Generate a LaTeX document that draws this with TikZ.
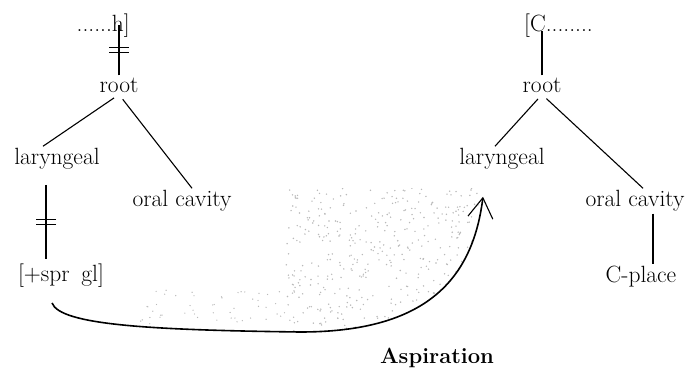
\documentclass[tikz,border=0pt]{standalone}
\usepackage{fontspec}
\usetikzlibrary{arrows.meta,decorations.markings,calc}

\tikzset{
  seg/.style={font=\fontsize{23.5}{28}\selectfont, inner sep=2pt},
  tie/.style={line width=1.1pt},
  branch/.style={line width=1.1pt, shorten <=6pt},
  cut/.style={decoration={markings, mark=at position 0.5 with {
        \draw[line width=1.1pt] (-2.5,-10) -- (-2.5,10) (2.5,-10) -- (2.5,10);}},
    postaction={decorate}},
  spread/.style={line width=1.6pt,
    -{Straight Barb[length=20pt,width=25pt,line width=1.1pt]}},
  speck/.style={gray!55},
}

\begin{document}
\begin{tikzpicture}[x=1pt, y=-1pt]
  \useasboundingbox (0,0) rectangle (691,370);

  % -- Left segment: coda h --
  \node[seg, anchor=base east, inner sep=0pt] (codaL) at (130,31) {......h]};
  \node[seg] (rootL) at (119,85) {root};
  \node[seg] (laryL) at (57,159) {laryngeal};
  \node[seg] (oralL) at (182,201) {oral cavity};
  \node[seg] (sprgl) at (61,276) {[+spr\enspace gl]};

  % -- Right segment: onset C --
  \node[seg, anchor=base west, inner sep=0pt] (onsetR) at (524,31) {[C........};
  \node[seg] (rootR) at (542,85) {root};
  \node[seg] (laryR) at (502,159) {laryngeal};
  \node[seg] (oralR) at (635,201) {oral cavity};
  \node[seg] (cplace) at (641,277) {C-place};

  \node[font=\fontsize{22}{26}\selectfont\bfseries] (asp) at (437,358) {Aspiration};

  % -- Left tree (delinked) --
  \draw[tie, cut] (rootL.north) -- (rootL.north |- codaL.center);
  \draw[branch] (rootL.south) -- ([xshift=-14pt]laryL.north);
  \draw[branch] (rootL.south) -- ([xshift=10pt]oralL.north);
  \draw[tie, cut] ($(laryL.south)+(-11,13)$) -- ($(sprgl.north)+(-15,-3)$);

  % -- Right tree --
  \draw[tie] (rootR.north) -- (rootR.north |- onsetR.base);
  \draw[branch] (rootR.south) -- ([xshift=-7pt]laryR.north);
  \draw[branch] (rootR.south) -- ([xshift=8pt]oralR.north);
  \draw[tie] ([xshift=18pt]oralR.south) -- ([xshift=12pt]cplace.north);

  % -- Spreading of [+spr gl] --
  \coordinate (aspfrom) at ([shift={(-9pt,-13pt)}]sprgl.south);
  \coordinate (asptip) at ([shift={(-19pt,-25pt)}]laryR.south);

  \pgfmathsetseed{12}
  \begin{scope}
    \clip (285,188) -- (476,188) -- (asptip) .. controls (472,285) and (420,332) .. (300,332) -- (285,332) -- cycle;
    \foreach \k in {1,...,450}
      \fill[speck] (285+195*rnd, 188+145*rnd) circle (0.8pt);
  \end{scope}
  \foreach \k in {1,...,50}
    \fill[speck] (140+145*rnd, 290+34*rnd) circle (0.7pt);

  \draw[spread] (aspfrom) .. controls (60,325) and (150,330) .. (300,332)
    .. controls (420,332) and (472,285) .. (asptip);

\end{tikzpicture}
\end{document}
